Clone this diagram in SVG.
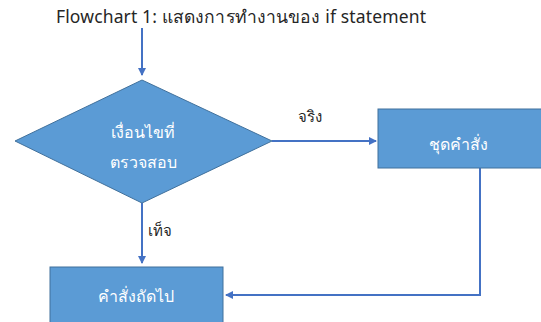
<svg xmlns="http://www.w3.org/2000/svg" width="541" height="322" viewBox="0 0 541 322">
<style>
  .node { fill: #5B9BD5; stroke: #41719C; stroke-width: 1; }
  .ntext { fill: #FFFFFF; font-family: "Noto Sans", "DejaVu Sans", sans-serif; font-size: 16px; text-anchor: middle; }
  .lbl { fill: #262626; font-family: "Noto Sans", "DejaVu Sans", sans-serif; font-size: 15px; }
  .conn { fill: none; stroke: #4472C4; stroke-width: 2; }
</style>
<defs>
  <marker id="ah" markerWidth="8" markerHeight="8" refX="7" refY="4" orient="auto" markerUnits="userSpaceOnUse" viewBox="0 0 8 8">
    <path d="M0,0 L8,4 L0,8 Z" fill="#4472C4"/>
  </marker>
</defs>
<text x="56" y="23" font-family="Noto Sans, DejaVu Sans, sans-serif" font-size="17.5" fill="#262626" textLength="370" lengthAdjust="spacing">Flowchart 1: แสดงการทำงานของ if statement</text>
<g id="connectors">
  <line class="conn" x1="142" y1="28" x2="142" y2="75" marker-end="url(#ah)"/>
  <line class="conn" x1="272" y1="141" x2="376" y2="141" marker-end="url(#ah)"/>
  <line class="conn" x1="142" y1="203" x2="142" y2="263" marker-end="url(#ah)"/>
  <polyline class="conn" points="480,168 480,295 226,295" marker-end="url(#ah)"/>
  <text class="lbl" x="298" y="122">จริง</text>
  <text class="lbl" x="148" y="236">เท็จ</text>
</g>
<g id="decision">
  <polygon class="node" points="142,80 272,141 142,203 15,141"/>
  <text class="ntext" x="143" y="138">เงื่อนไขที่</text>
  <text class="ntext" x="143" y="168">ตรวจสอบ</text>
</g>
<g id="statements">
  <rect class="node" x="378" y="109" width="170" height="59"/>
  <text class="ntext" x="458" y="150">ชุดคำสั่ง</text>
</g>
<g id="next">
  <rect class="node" x="50" y="267" width="173" height="65"/>
  <text class="ntext" x="136" y="302">คำสั่งถัดไป</text>
</g>
</svg>
